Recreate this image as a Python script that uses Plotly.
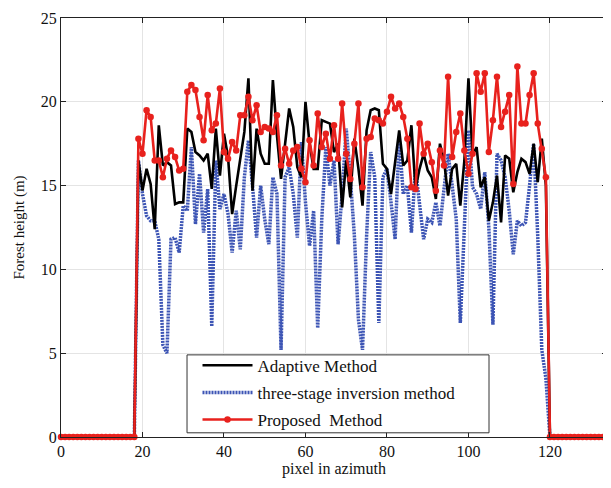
import plotly.graph_objects as go

# ---- data ----
x_pixels = list(range(0, 135))
zeros_left = [0.0] * 19      # x = 0..18
zeros_right = [0.0] * 15     # x = 120..134

proposed_mid = [
    17.8, 16.9, 19.5, 19.1, 16.5, 16.5, 15.5, 16.6, 17.1, 16.7, 15.9, 16.0,
    20.6, 21.0, 20.7, 19.1, 17.7, 20.4, 18.3, 18.7, 20.8, 17.0,
    16.6, 17.6, 17.1, 19.2, 19.2, 20.3, 18.9, 19.8, 18.2, 18.5,
    18.4, 18.2, 19.2, 16.2, 17.2, 16.3, 17.1, 17.3, 16.0, 15.2,
    17.7, 16.2, 19.3, 17.3, 18.1, 16.6, 18.6, 16.6, 19.9, 16.9,
    15.4, 17.5, 19.9, 14.9, 17.8, 17.9, 19.0, 18.9, 18.7, 19.4,
    20.3, 19.6, 19.9, 19.1, 17.8, 14.9, 14.8, 18.7, 16.9, 17.5,
    16.4, 14.7, 17.1, 16.2, 21.5, 16.7, 18.2, 19.3, 17.1, 15.7,
    16.9, 21.7, 20.6, 21.7, 17.0, 18.9, 21.5, 18.5, 19.4, 20.4,
    15.1, 22.1, 18.7, 18.7, 20.4, 21.7, 18.7, 17.2, 15.5,
]
adaptive_mid = [
    16.5, 14.7, 16.0, 15.1, 12.4, 18.6, 16.2, 16.4, 16.2, 13.9, 14.0, 14.0,
    18.4, 18.2, 17.0, 16.8, 16.5, 16.9, 14.8, 18.4, 15.6, 18.1,
    16.7, 13.3, 15.0, 16.5, 18.2, 21.4, 14.7, 18.4, 16.9, 16.3,
    16.3, 21.3, 18.0, 15.4, 17.5, 19.6, 18.5, 16.1, 15.5, 20.0,
    17.5, 16.0, 16.0, 18.9, 18.8, 18.7, 17.0, 17.5, 13.7, 16.5,
    14.3, 17.8, 16.0, 13.8, 18.3, 19.5, 19.6, 19.5, 16.3, 16.0,
    14.5, 16.5, 18.3, 16.2, 16.5, 18.6, 14.8, 16.0, 16.9, 15.9,
    15.5, 14.2, 17.5, 16.5, 14.4, 16.0, 16.3, 13.8, 16.5, 21.4,
    16.8, 17.3, 14.9, 15.5, 12.9, 14.0, 15.6, 12.8, 16.8, 16.6,
    14.6, 15.8, 16.6, 16.4, 15.7, 17.5, 15.2, 17.8, 15.0,
]
three_stage_mid = [
    16.5, 14.5, 13.2, 12.9, 12.9, 11.8, 5.5, 5.0, 11.8, 11.9, 11.0, 13.8,
    13.5, 17.3, 12.7, 15.7, 12.2, 14.8, 6.6, 16.5, 13.6, 14.5,
    13.3, 11.0, 13.5, 11.2, 15.5, 17.7, 15.0, 11.9, 15.0, 13.0,
    11.5, 15.5, 14.5, 5.2, 15.5, 16.1, 14.5, 11.9, 17.6, 14.0,
    11.4, 13.5, 6.5, 13.0, 17.3, 15.0, 16.5, 11.5, 14.5, 18.4,
    15.5, 12.0, 7.0, 5.2, 12.0, 17.0, 15.5, 6.8, 15.5, 16.0,
    14.0, 11.8, 17.8, 14.5, 15.0, 12.2, 16.0, 14.0, 11.8, 13.0,
    12.8, 14.0, 12.6, 14.8, 16.9, 15.0, 13.0, 6.8, 13.0, 18.3,
    14.9, 14.5, 13.6, 15.8, 12.5, 6.7, 16.9, 16.5, 15.5, 13.5,
    10.9, 12.9, 12.6, 12.8, 15.0, 17.5, 12.0, 5.2, 3.5,
]

proposed = zeros_left + proposed_mid + zeros_right
adaptive = zeros_left + adaptive_mid + zeros_right
three_stage = zeros_left + three_stage_mid + zeros_right

x_ticks = [0, 20, 40, 60, 80, 100, 120]
y_ticks = [0, 5, 10, 15, 20, 25]

FONT = "Liberation Serif"

fig = go.Figure()
fig.add_trace(go.Scatter(
    x=x_pixels, y=three_stage, mode="lines", name="three-stage inversion method",
    line=dict(color="#3d55b5", width=3.5, dash="2px,1px"),
    legendrank=2, legendgroup="b",
))
fig.add_trace(go.Scatter(
    x=x_pixels, y=adaptive, mode="lines", name="Adaptive Method",
    line=dict(color="black", width=2.6),
    legendrank=1, legendgroup="a",
))
fig.add_trace(go.Scatter(
    x=x_pixels, y=proposed, mode="lines+markers", name="Proposed  Method",
    line=dict(color="#e8211d", width=2.6),
    marker=dict(color="#e8211d", size=6.5, symbol="circle"),
    cliponaxis=False,
    legendrank=3, legendgroup="c",
))

axis_common = dict(
    showline=True, linecolor="#222", linewidth=1, mirror="allticks",
    ticks="inside", ticklen=5, tickcolor="#222", automargin=False,
    ticklabeloverflow="allow",
    showgrid=True, gridcolor="#e4e4e4", gridwidth=1, zeroline=False,
    tickfont=dict(family=FONT, size=16, color="#111"),
)

# page body has an 8px default margin, so the figure is sized to fit
fig.update_layout(
    width=603, height=480,
    margin=dict(l=53, r=4, t=10, b=51),
    paper_bgcolor="white", plot_bgcolor="white",
    font=dict(family=FONT, color="#111"),
    xaxis=dict(range=[0, 134], tickvals=x_ticks,
               title=dict(text="pixel in azimuth", font=dict(family=FONT, size=16), standoff=2),
               **axis_common),
    yaxis=dict(range=[0, 25], tickvals=y_ticks,
               title=dict(text="Forest height (m)", font=dict(family=FONT, size=15), standoff=12),
               **axis_common),
    showlegend=True,
    legend=dict(
        x=0.25, y=0.213, xanchor="left", yanchor="top",
        bgcolor="rgba(0,0,0,0)", borderwidth=0,
        font=dict(family=FONT, size=17, color="#111"),
        itemwidth=50, tracegroupgap=2,
    ),
    shapes=[dict(
        type="rect", xref="paper", yref="paper",
        x0=0.2308, x1=0.7839, y0=0.01, y1=0.196,
        fillcolor="white", line=dict(color="#333", width=1), layer="above",
    )],
)

fig.write_html("out.html")
